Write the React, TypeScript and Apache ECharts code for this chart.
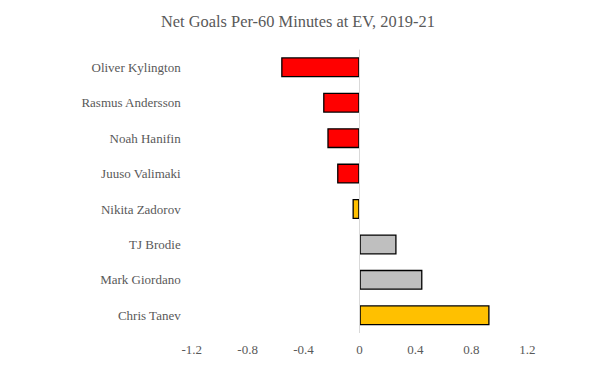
import React, { useEffect, useRef } from "react";
import * as echarts from "echarts";

const players = [
  "Oliver Kylington",
  "Rasmus Andersson",
  "Noah Hanifin",
  "Juuso Valimaki",
  "Nikita Zadorov",
  "TJ Brodie",
  "Mark Giordano",
  "Chris Tanev",
];
const netGoals = [-0.56, -0.26, -0.23, -0.16, -0.05, 0.265, 0.45, 0.93];
const barColors = ["#FF0000", "#FF0000", "#FF0000", "#FF0000", "#FFC000", "#BFBFBF", "#BFBFBF", "#FFC000"];
const titleText = "Net Goals Per-60 Minutes at EV, 2019-21";

const FONT = "'Liberation Serif', serif";

export default function App() {
  const ref = useRef<HTMLDivElement>(null);
  useEffect(() => {
    if (!ref.current) return;
    const chart = echarts.init(ref.current, null, { renderer: "svg" });
    chart.setOption({
      animation: false,
      backgroundColor: "#ffffff",
      graphic: [
        {
          type: "text",
          left: 161,
          top: 13,
          style: {
            text: titleText,
            fontFamily: FONT,
            fontSize: 16.4,
            fill: "#595959",
          },
        },
      ],
      grid: { left: 191.7, right: 77.7, top: 49.6, bottom: 36 },
      xAxis: {
        type: "value",
        min: -1.2,
        max: 1.2,
        interval: 0.4,
        axisLine: { show: false },
        axisTick: { show: false },
        splitLine: { show: false },
        axisLabel: {
          fontFamily: FONT,
          fontSize: 13,
          color: "#595959",
          margin: 10,
          formatter: (v: number) => {
            const r = Math.round(v * 10) / 10;
            return r === 0 ? "0" : String(r);
          },
        },
      },
      yAxis: {
        type: "category",
        data: players,
        inverse: true,
        axisLine: { show: false },
        axisTick: { show: false },
        axisLabel: { fontFamily: FONT, fontSize: 13, color: "#595959", margin: 11 },
      },
      series: [
        {
          type: "bar",
          barWidth: 20,
          data: netGoals.map((v, i) => ({
            value: v,
            itemStyle: { color: barColors[i], borderColor: "#000000", borderWidth: 1.3 },
          })),
          markLine: {
            silent: true,
            symbol: "none",
            label: { show: false },
            lineStyle: { color: "#D9D9D9", width: 1, type: "solid" },
            data: [{ xAxis: 0 }],
          },
        },
      ],
    });
    return () => chart.dispose();
  }, []);
  return <div ref={ref} style={{ width: 605, height: 369, position: "absolute", left: 0, top: 0 }} />;
}
